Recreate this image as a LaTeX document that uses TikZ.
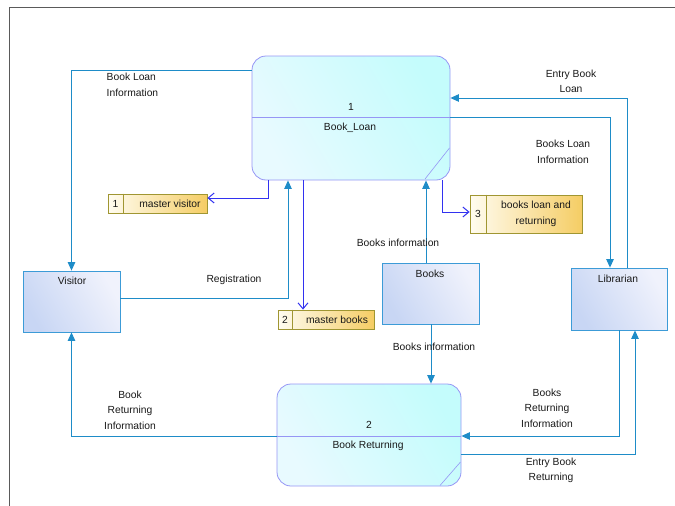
\documentclass[tikz,border=0pt]{standalone}
\usepackage{fontspec}
\setmainfont{Liberation Sans}
\usetikzlibrary{arrows.meta,calc}
\definecolor{flowc}{RGB}{30,140,200}
\definecolor{dsflow}{RGB}{50,50,240}
\definecolor{procb}{RGB}{150,150,245}
\definecolor{procA}{RGB}{232,250,255}
\definecolor{procB}{RGB}{196,252,252}
\definecolor{entb}{RGB}{60,155,215}
\definecolor{entA}{RGB}{200,214,244}
\definecolor{entB}{RGB}{240,242,252}
\definecolor{dsb}{RGB}{160,150,50}
\definecolor{dsA}{RGB}{255,252,240}
\definecolor{dsB}{RGB}{245,205,100}
\definecolor{txt}{RGB}{25,25,25}
\definecolor{framec}{RGB}{90,90,90}
\tikzset{
  every node/.style={font=\fontsize{10.3}{15.5}\selectfont, text=txt, inner sep=0pt},
  proc/.style={draw=procb, line width=0.8pt, rounded corners=14pt, left color=procA, right color=procB, shading angle=120},
  ent/.style={draw=entb, line width=0.8pt, left color=entA, right color=entB, shading angle=120},
  dstore/.style={draw=dsb, line width=0.8pt, left color=dsA, right color=dsB},
  flow/.style={draw=flowc, line width=1pt, -{Triangle[length=8.5pt,width=7.5pt]}},
  dflow/.style={draw=dsflow, line width=1pt, -{Straight Barb[length=6pt,width=10pt]}},
  lbl/.style={align=center},
}
\begin{document}
\begin{tikzpicture}[x=1pt,y=-1pt]
\useasboundingbox (0,0) rectangle (675,506);
% frame
\draw[framec, line width=1pt] (9.5,506) -- (9.5,7.5) -- (675,7.5);

% processes
\node[proc, minimum width=198pt, minimum height=124pt] (p1) at (351,118) {};
\node[proc, minimum width=184pt, minimum height=102pt] (p2) at (369,435) {};

% entities
\node[ent, minimum width=97pt, minimum height=61pt] (visitor) at (71.5,301.5) {};
\node[ent, minimum width=96pt, minimum height=62pt] (librarian) at (619,299) {};
\node[ent, minimum width=97pt, minimum height=61pt] (books) at (430.5,293.5) {};

% data stores
\node[dstore, minimum width=99pt, minimum height=19pt] (ds1) at (157.5,203.5) {};
\node[dstore, minimum width=96pt, minimum height=19pt] (ds2) at (326,319.5) {};
\node[dstore, minimum width=112pt, minimum height=38pt] (ds3) at (526,214) {};
\draw[dsb, line width=0.8pt] (ds1.north -| 123,0) -- (ds1.south -| 123,0);
\draw[dsb, line width=0.8pt] (ds2.north -| 292,0) -- (ds2.south -| 292,0);
\draw[dsb, line width=0.8pt] (ds3.north -| 486,0) -- (ds3.south -| 486,0);

% process dividers and folds
\draw[procb, line width=0.8pt] (p1.west |- 0,117) -- (p1.east |- 0,117);
\draw[procb, line width=0.8pt] (p2.west |- 0,436) -- (p2.east |- 0,436);
\draw[procb, line width=0.6pt] (425,179) -- (449.5,148);
\draw[procb, line width=0.6pt] (440,485.5) -- (460.5,462);

% texts in shapes
\node (p1n) at (351,107) {1};
\node (p1t) at (350,128) {Book\_Loan};
\node (p2n) at (369,425) {2};
\node (p2t) at (368,446) {Book Returning};
\node (vt) at (72,281) {Visitor};
\node (lt) at (618,279) {Librarian};
\node (bt) at (430,274) {Books};
\node (ds1n) at (115.5,204) {1};
\node (ds1t) at (170,204) {master visitor};
\node (ds2n) at (285,320) {2};
\node (ds2t) at (337,320) {master books};
\node (ds3n) at (478,214) {3};
\node[lbl] (ds3t) at (536,214) {books loan and\\returning};

% flows
\draw[flow] (p1.west |- 0,70) -| (visitor.north);
\draw[flow] (visitor.east |- 0,298) -| (p1.south -| 288,0);
\draw[dflow] (p1.south -| 268,0) |- (ds1.east |- 0,198);
\draw[dflow] (p1.south -| 303,0) -- (ds2.north -| 303,0);
\draw[dflow] (p1.south -| 442,0) |- (ds3.west |- 0,212);
\draw[flow] (books.north -| 426,0) -- (p1.south -| 426,0);
\draw[flow] (books.south -| 431,0) -- (p2.north -| 431,0);
\draw[flow] (librarian.north -| 627,0) |- (p1.east |- 0,98);
\draw[flow] (p1.east |- 0,117) -| (librarian.north -| 610,0);
\draw[flow] (p2.west |- 0,436) -| (visitor.south);
\draw[flow] (librarian.south -| 619,0) |- (p2.east |- 0,436);
\draw[flow] (p2.east |- 0,454) -| (librarian.south -| 635,0);

% flow labels
\node[align=left, anchor=north west] (l1) at (106.5,73) {Book Loan\\Information};
\node (l2) at (234,280) {Registration};
\node (l3) at (398,243) {Books information};
\node (l4) at (434,347) {Books information};
\node[lbl] (l5) at (571,81.5) {Entry Book\\Loan};
\node[lbl] (l6) at (563,152) {Books Loan\\Information};
\node[lbl] (l7) at (130,410) {Book\\Returning\\Information};
\node[lbl] (l8) at (547,408) {Books\\Returning\\Information};
\node[lbl] (l9) at (551,470.5) {Entry Book\\Returning};
\end{tikzpicture}
\end{document}
